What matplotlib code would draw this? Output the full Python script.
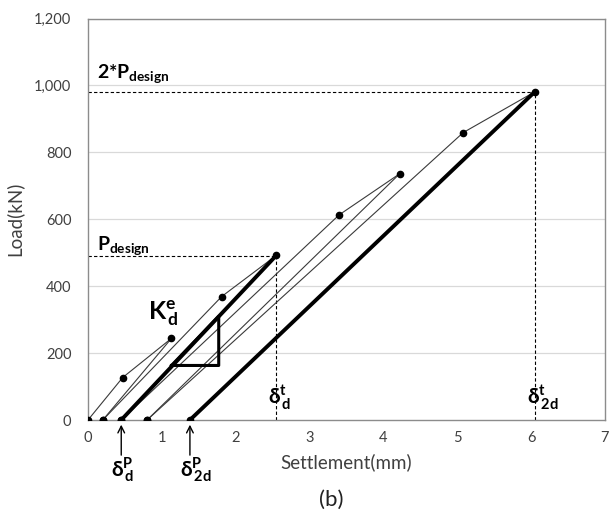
import matplotlib
matplotlib.use("Agg")
import matplotlib.pyplot as plt
from matplotlib.ticker import FuncFormatter

plt.rcParams['font.family'] = ['Lato', 'DejaVu Sans']
plt.rcParams['mathtext.fontset'] = 'custom'
plt.rcParams['mathtext.rm'] = 'Lato'
plt.rcParams['mathtext.bf'] = 'Lato:bold'
plt.rcParams['mathtext.it'] = 'Lato:italic'

# Cycles: load -> unload (settlement mm, load kN)
cycle1_x = [0.00, 0.47, 1.13, 0.20]
cycle1_y = [0, 127, 244, 0]
cycle2_x = [0.20, 1.81, 2.55, 0.45]
cycle2_y = [0, 369, 492, 0]
cycle3_x = [0.45, 3.40, 4.22, 0.80]
cycle3_y = [0, 613, 736, 0]
cycle4_x = [0.80, 5.08, 6.05, 1.38]
cycle4_y = [0, 859, 981, 0]

p_design = 491
p2_design = 981
delta_t_d = 2.55
delta_t_2d = 6.05
delta_p_d = 0.45
delta_p_2d = 1.38
# stiffness triangle
tri_x = [1.13, 1.77, 1.77]
tri_y = [163, 163, 310]

x_ticks = [0, 1, 2, 3, 4, 5, 6, 7]
y_ticks = [0, 200, 400, 600, 800, 1000, 1200]

fig = plt.figure(figsize=(6.13, 5.16), dpi=100)
ax = fig.add_axes([88/613, 96/516, (605-88)/613, (420.5-19)/516])
ax.set_xlim(0, 7)
ax.set_ylim(0, 1200)

for yv in y_ticks[1:]:
    ax.axhline(yv, color='#d9d9d9', lw=0.9, zorder=0)

thin = dict(color='#3a3a3a', lw=0.8, zorder=2)
thick = dict(color='black', lw=2.8, zorder=3, solid_capstyle='butt')
cycles = [(cycle1_x, cycle1_y, False), (cycle2_x, cycle2_y, True),
          (cycle3_x, cycle3_y, False), (cycle4_x, cycle4_y, True)]
for cx, cy, thick_unload in cycles:
    ax.plot(cx[:3], cy[:3], **thin)
    if thick_unload:
        ax.plot(cx[2:], cy[2:], **thick)
    else:
        ax.plot(cx[2:], cy[2:], **thin)
    ax.plot(cx, cy, linestyle='none', marker='o', ms=4.5, color='black', zorder=4)

# triangle
ax.plot(tri_x + [tri_x[0]], tri_y + [tri_y[0]], color='black', lw=2.2, zorder=3)

# dashed guides
ax.plot([0, delta_t_d], [p_design, p_design], color='black', lw=0.8, ls=(0, (3, 2)), zorder=1)
ax.plot([delta_t_d, delta_t_d], [0, p_design], color='black', lw=0.8, ls=(0, (3, 2)), zorder=1)
ax.plot([0, delta_t_2d], [p2_design, p2_design], color='black', lw=0.8, ls=(0, (3, 2)), zorder=1)
ax.plot([delta_t_2d, delta_t_2d], [0, p2_design], color='black', lw=0.8, ls=(0, (3, 2)), zorder=1)

for s in ax.spines.values():
    s.set_color('#8c8c8c')
    s.set_linewidth(1.0)

ax.set_xticks(x_ticks)
ax.set_yticks(y_ticks)
ax.yaxis.set_major_formatter(FuncFormatter(lambda v, p: f"{int(v):,}"))
ax.tick_params(length=0, labelsize=10.5, colors='#404040', pad=8)
ax.tick_params(axis='y', pad=12)
ax.set_xlabel('Settlement(mm)', fontsize=13.5, color='#404040', labelpad=6)
ax.set_ylabel('Load(kN)', fontsize=13.5, color='#404040', labelpad=8)

# annotations
ax.text(0.12, 1021, r'$\mathbf{2{*}P_{design}}$', fontsize=14, ha='left', va='baseline')
ax.text(0.12, 507, r'$\mathbf{P_{design}}$', fontsize=14, ha='left', va='baseline')
ax.text(0.81, 300, r'$\mathbf{K^{e}_{\,d}}$', fontsize=18, ha='left', va='baseline')
ax.text(2.44, 45, r'$\mathbf{\delta^{t}_{\,d}}$', fontsize=15, ha='left', va='baseline')
ax.text(5.94, 45, r'$\mathbf{\delta^{t}_{\,2d}}$', fontsize=15, ha='left', va='baseline')

for xv in [delta_p_d, delta_p_2d]:
    ax.annotate('', xy=(xv, -14), xytext=(xv, -105), xycoords='data',
                arrowprops=dict(arrowstyle='->', color='black', lw=1.0,
                                mutation_scale=12, shrinkA=0, shrinkB=0),
                annotation_clip=False)
ax.text(delta_p_d + 0.02, -170, r'$\mathbf{\delta^{P}_{\,d}}$', fontsize=15, ha='center',
        va='baseline', clip_on=False)
ax.text(delta_p_2d + 0.08, -170, r'$\mathbf{\delta^{P}_{\,2d}}$', fontsize=15, ha='center',
        va='baseline', clip_on=False)

fig.text(331/613, 1 - 500/516, '(b)', fontsize=16, ha='center', va='center', color='#222222')

fig.savefig('out.png', dpi=100)
